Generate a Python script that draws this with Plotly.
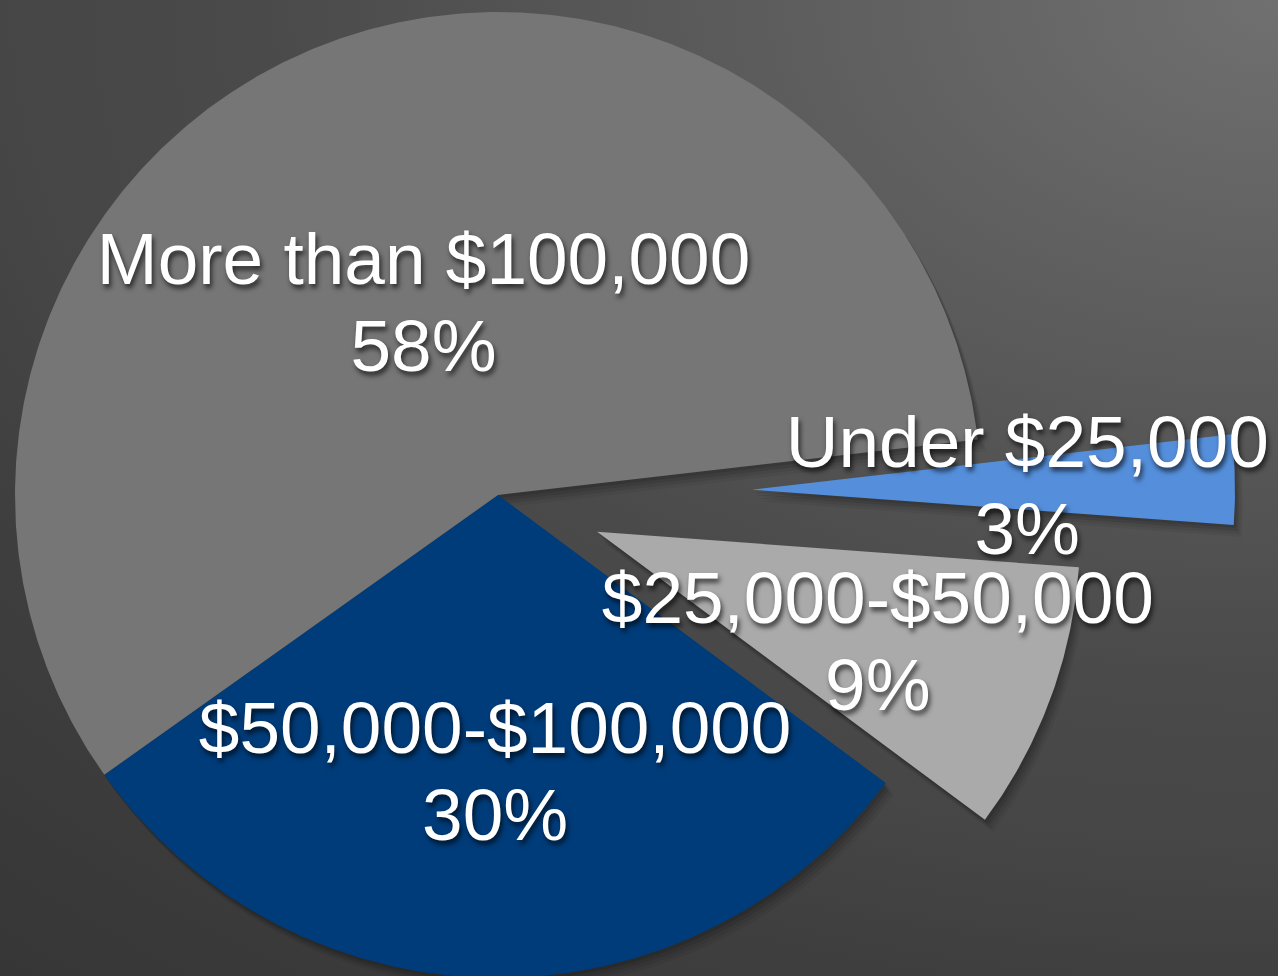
import base64
import numpy as np
import plotly.graph_objects as go

# Household income distribution
categories = ["Under $25,000", "$25,000-$50,000", "$50,000-$100,000", "More than $100,000"]
shares = [3, 9, 30, 58]
pct_labels = ["3%", "9%", "30%", "58%"]

# Styling per slice
colors = ["#558fdb", "#aaaaaa", "#003c7a", "#767676"]
pulls = [0.526, 0.219, 0.0, 0.0]          # explode distance, in radii
label_dist = [0.57, 0.62, 0.57, 0.43]     # label distance from slice apex, in radii
label_nudge_px = [0, -4, 0, 0]            # extra vertical nudge per label (pixels)

W, H = 1278, 976
R_PX = 483                  # pie radius in pixels (1 data unit)
CX_PX, CY_PX = 498, 495     # pie centre in pixels
START_DEG = 6.6             # first slice starts here, slices run clockwise
LINE_GAP = 87 / R_PX        # distance between the two label lines
TEXT_DY = -8 / R_PX         # small downward nudge for the label block

x_range = [(0 - CX_PX) / R_PX, (W - CX_PX) / R_PX]
y_range = [(CY_PX - H) / R_PX, CY_PX / R_PX]

fig = go.Figure()

total = float(sum(shares))
edges = START_DEG - 360.0 * np.concatenate([[0], np.cumsum(shares)]) / total

slices = []
for i, share in enumerate(shares):
    a0, a1 = np.radians(edges[i]), np.radians(edges[i + 1])
    mid = (a0 + a1) / 2
    ox, oy = pulls[i] * np.cos(mid), pulls[i] * np.sin(mid)
    n = max(8, int(abs(edges[i] - edges[i + 1]) * 2))
    t = np.linspace(a0, a1, n)
    xs = np.concatenate([[ox], ox + np.cos(t), [ox]])
    ys = np.concatenate([[oy], oy + np.sin(t), [oy]])
    lx = ox + label_dist[i] * np.cos(mid)
    ly = oy + label_dist[i] * np.sin(mid) + TEXT_DY + label_nudge_px[i] / R_PX
    slices.append((xs, ys, lx, ly))

# soft drop shadow under the slices
for dx, dy, alpha in [(2, 3, 0.10), (4, 6, 0.09), (6, 9, 0.07), (8, 12, 0.05)]:
    for xs, ys, _, _ in slices:
        fig.add_trace(go.Scatter(
            x=xs + dx / R_PX, y=ys - dy / R_PX, mode="lines", fill="toself",
            fillcolor=f"rgba(0,0,0,{alpha})", line=dict(width=0),
            hoverinfo="skip", showlegend=False))

for i, (xs, ys, _, _) in enumerate(slices):
    fig.add_trace(go.Scatter(
        x=xs, y=ys, mode="lines", fill="toself", fillcolor=colors[i],
        line=dict(width=0, color=colors[i]), name=categories[i],
        hovertemplate=f"{categories[i]}: {shares[i]}%<extra></extra>",
        showlegend=False))

label_font = dict(family="Liberation Sans, Arial, Helvetica, sans-serif", size=73,
                  color="#ffffff", shadow="2px 4px 5px rgba(0,0,0,0.65)")

lx = [s[2] for s in slices]
ly = [s[3] for s in slices]
fig.add_trace(go.Scatter(
    x=lx, y=[v + LINE_GAP / 2 for v in ly], mode="text", text=categories,
    textposition="middle center", textfont=label_font,
    hoverinfo="skip", showlegend=False))
fig.add_trace(go.Scatter(
    x=lx, y=[v - LINE_GAP / 2 for v in ly], mode="text", text=pct_labels,
    textposition="middle center", textfont=label_font,
    hoverinfo="skip", showlegend=False))

# dark backdrop, brighter towards the upper right corner
svg = f'''<svg xmlns="http://www.w3.org/2000/svg" width="{W}" height="{H}" viewBox="0 0 {W} {H}" preserveAspectRatio="none">
<defs><radialGradient id="g" gradientUnits="userSpaceOnUse" cx="{W}" cy="0" r="2000"
 gradientTransform="translate({W} 0) scale(1 0.667) translate(-{W} 0)">
<stop offset="0" stop-color="#707070"/>
<stop offset="0.21" stop-color="#606060"/>
<stop offset="0.51" stop-color="#4a4a4a"/>
<stop offset="0.64" stop-color="#464646"/>
<stop offset="0.74" stop-color="#3f3f3f"/>
<stop offset="1" stop-color="#353535"/>
</radialGradient></defs>
<rect width="{W}" height="{H}" fill="url(#g)"/></svg>'''
bg_uri = "data:image/svg+xml;base64," + base64.b64encode(svg.encode()).decode()

fig.update_layout(
    width=W, height=H,
    margin=dict(l=0, r=0, t=0, b=0),
    paper_bgcolor="#484848", plot_bgcolor="rgba(0,0,0,0)",
    xaxis=dict(range=x_range, visible=False, fixedrange=True),
    yaxis=dict(range=y_range, visible=False, fixedrange=True),
    images=[dict(source=bg_uri, xref="paper", yref="paper", x=0, y=1,
                 sizex=1, sizey=1, xanchor="left", yanchor="top",
                 sizing="stretch", layer="below")],
    showlegend=False,
)

fig.write_html("out.html")
